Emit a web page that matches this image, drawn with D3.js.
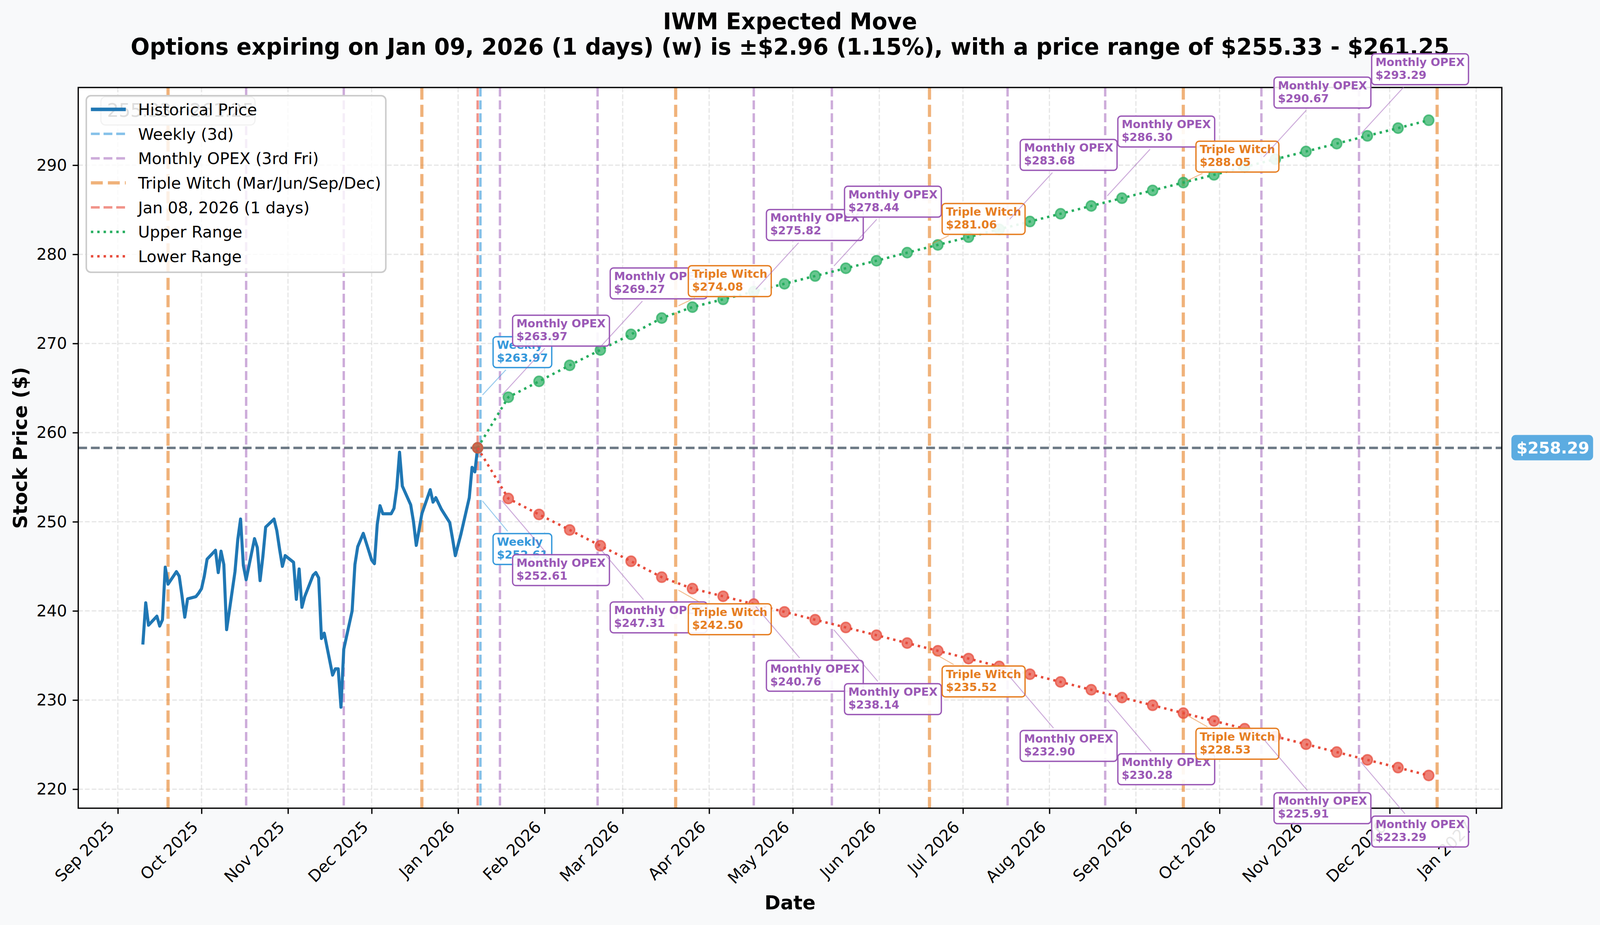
<!DOCTYPE html>
<html>
<head>
<meta charset="utf-8">
<script src="https://cdn.jsdelivr.net/npm/d3@7"></script>
<style>
  html, body { margin: 0; padding: 0; background: #f8f9fa; overflow: hidden; width: 100%; height: 100%; }
  svg { display: block; }
  svg text { font-family: "DejaVu Sans", sans-serif; }
</style>
</head>
<body>
<div id="chart"></div>
<script>
// ---- data ----
const histDates = [
  "2025-09-10","2025-09-11","2025-09-12","2025-09-15","2025-09-16","2025-09-17","2025-09-18","2025-09-19",
  "2025-09-22","2025-09-23","2025-09-24","2025-09-25","2025-09-26","2025-09-29","2025-09-30",
  "2025-10-01","2025-10-02","2025-10-03","2025-10-06","2025-10-07","2025-10-08","2025-10-09","2025-10-10",
  "2025-10-13","2025-10-14","2025-10-15","2025-10-16","2025-10-17","2025-10-20","2025-10-21","2025-10-22","2025-10-23","2025-10-24",
  "2025-10-27","2025-10-28","2025-10-29","2025-10-30","2025-10-31",
  "2025-11-03","2025-11-04","2025-11-05","2025-11-06","2025-11-07","2025-11-10","2025-11-11","2025-11-12","2025-11-13","2025-11-14",
  "2025-11-17","2025-11-18","2025-11-19","2025-11-20","2025-11-21","2025-11-24","2025-11-25","2025-11-26","2025-11-28",
  "2025-12-01","2025-12-02","2025-12-03","2025-12-04","2025-12-05","2025-12-08","2025-12-09","2025-12-10","2025-12-11","2025-12-12",
  "2025-12-15","2025-12-16","2025-12-17","2025-12-18","2025-12-19","2025-12-22","2025-12-23","2025-12-24","2025-12-26",
  "2025-12-29","2025-12-30","2025-12-31","2026-01-02","2026-01-05","2026-01-06","2026-01-07","2026-01-08"
];
const histPrices = [
  236.4, 240.9, 238.4, 239.4, 238.3, 239.0, 244.9, 243.0,
  244.4, 243.9, 241.7, 239.3, 241.35, 241.6, 242.0,
  242.5, 243.9, 245.8, 246.8, 244.3, 246.7, 245.2, 237.9,
  244.4, 248.0, 250.3, 245.1, 243.5, 248.1, 247.1, 243.4, 246.1, 249.4,
  250.3, 249.0, 246.9, 245.0, 246.2,
  245.45, 241.3, 244.7, 240.4, 241.6, 244.0, 244.3, 243.7, 236.9, 237.5,
  232.8, 233.5, 233.5, 229.2, 235.7, 240.0, 245.2, 247.2, 248.7,
  245.7, 245.3, 249.7, 251.8, 250.9, 250.9, 251.5, 253.8, 257.8, 254.0,
  251.9, 250.0, 247.35, 249.1, 250.9, 253.6, 252.2, 252.7, 251.4,
  249.9, 248.1, 246.2, 248.6, 252.7, 256.1, 255.6, 258.29
];

const rangeDates = [
  "2026-01-08","2026-01-19","2026-01-30","2026-02-10","2026-02-21","2026-03-04","2026-03-15","2026-03-26",
  "2026-04-06","2026-04-17","2026-04-28","2026-05-09","2026-05-20","2026-05-31","2026-06-11","2026-06-22",
  "2026-07-03","2026-07-14","2026-07-25","2026-08-05","2026-08-16","2026-08-27","2026-09-07","2026-09-18",
  "2026-09-29","2026-10-10","2026-10-21","2026-11-01","2026-11-12","2026-11-23","2026-12-04","2026-12-15"
];
const upperValues = [
  258.29, 263.97, 265.75, 267.55, 269.27, 271.02, 272.85, 274.08,
  274.95, 275.82, 276.70, 277.57, 278.44, 279.28, 280.19, 281.06,
  281.93, 282.81, 283.68, 284.55, 285.43, 286.30, 287.17, 288.05,
  288.92, 289.80, 290.67, 291.54, 292.42, 293.29, 294.16, 295.04
];
const lowerValues = [
  258.29, 252.61, 250.82, 249.08, 247.31, 245.57, 243.78, 242.50,
  241.64, 240.76, 239.89, 239.01, 238.14, 237.27, 236.39, 235.52,
  234.65, 233.77, 232.90, 232.03, 231.15, 230.28, 229.41, 228.53,
  227.66, 226.78, 225.91, 225.04, 224.16, 223.29, 222.42, 221.54
];

const currentPrice = 258.29;
const todayDate = "2026-01-08";
const weeklyDate = "2026-01-09";
const monthlyOpex = ["2025-10-17","2025-11-21","2026-01-16","2026-02-20","2026-04-17","2026-05-15",
                     "2026-07-17","2026-08-21","2026-10-16","2026-11-20"];
const tripleWitch = ["2025-09-19","2025-12-19","2026-03-20","2026-06-19","2026-09-18","2026-12-18"];

const annoDates = ["2026-01-09","2026-01-16","2026-02-20","2026-03-20","2026-04-17","2026-05-15",
                   "2026-06-19","2026-07-17","2026-08-21","2026-09-18","2026-10-16","2026-11-20"];
const annoKinds = ["weekly","monthly","monthly","triple","monthly","monthly",
                   "triple","monthly","monthly","triple","monthly","monthly"];
const annoUpper = [263.97, 263.97, 269.27, 274.08, 275.82, 278.44, 281.06, 283.68, 286.30, 288.05, 290.67, 293.29];
const annoLower = [252.61, 252.61, 247.31, 242.50, 240.76, 238.14, 235.52, 232.90, 230.28, 228.53, 225.91, 223.29];

const yTicks = [220, 230, 240, 250, 260, 270, 280, 290];

const titleLine1 = "IWM Expected Move";
const titleLine2 = "Options expiring on Jan 09, 2026 (1 days) (w) is \u00b1$2.96 (1.15%), with a price range of $255.33 - $261.25";
const rangeText = "255.33 - 261.25";

// ---- layout ----
var W = 4172, H = 2368;
var margin = {top: 224, right: 256, bottom: 299, left: 204};
var plotW = W - margin.left - margin.right;
var plotH = H - margin.top - margin.bottom;
var parse = d3.timeParse("%Y-%m-%d");

// drawn in a fixed 4172x2368 frame, stretched to whatever the window gives
var svg = d3.select("#chart").append("svg")
  .attr("viewBox", `0 0 ${W} ${H}`)
  .attr("preserveAspectRatio", "none")
  .style("width", "100vw")
  .style("height", "100vh");
svg.append("rect").attr("width", W).attr("height", H).attr("fill", "#f8f9fa");

var g = svg.append("g").attr("transform", `translate(${margin.left},${margin.top})`);
g.append("rect").attr("width", plotW).attr("height", plotH).attr("fill", "#ffffff");

// scales, with matplotlib style 5% padding
var allDates = histDates.concat(rangeDates, monthlyOpex, tripleWitch, [todayDate, weeklyDate]).map(parse);
var xExt = d3.extent(allDates);
var xPad = (xExt[1] - xExt[0]) * 0.05;
var x = d3.scaleTime()
  .domain([new Date(+xExt[0] - xPad), new Date(+xExt[1] + xPad)])
  .range([0, plotW]);

var allVals = histPrices.concat(upperValues, lowerValues);
var yExt = d3.extent(allVals);
var yPad = (yExt[1] - yExt[0]) * 0.05;
var y = d3.scaleLinear()
  .domain([yExt[0] - yPad, yExt[1] + yPad])
  .range([plotH, 0]);

var monthTicks = x.ticks(d3.timeMonth.every(1));

// grid
var grid = g.append("g").attr("stroke", "#b0b0b0").attr("stroke-opacity", 0.3)
  .attr("stroke-width", 3.3).attr("stroke-dasharray", "12.2,5.3");
grid.selectAll(".gx").data(monthTicks).enter().append("line")
  .attr("x1", d => x(d)).attr("x2", d => x(d)).attr("y1", 0).attr("y2", plotH);
grid.selectAll(".gy").data(yTicks).enter().append("line")
  .attr("x1", 0).attr("x2", plotW).attr("y1", d => y(d)).attr("y2", d => y(d));

// event lines
g.selectAll(".opex").data(monthlyOpex).enter().append("line")
  .attr("x1", d => x(parse(d))).attr("x2", d => x(parse(d)))
  .attr("y1", 0).attr("y2", plotH)
  .attr("stroke", "#9b59b6").attr("stroke-opacity", 0.5)
  .attr("stroke-width", 6.25).attr("stroke-dasharray", "23,10");

g.selectAll(".witch").data(tripleWitch).enter().append("line")
  .attr("x1", d => x(parse(d))).attr("x2", d => x(parse(d)))
  .attr("y1", 0).attr("y2", plotH)
  .attr("stroke", "#e67e22").attr("stroke-opacity", 0.6)
  .attr("stroke-width", 8.3).attr("stroke-dasharray", "31,13.3");

g.append("line")
  .attr("x1", x(parse(todayDate))).attr("x2", x(parse(todayDate)))
  .attr("y1", 0).attr("y2", plotH)
  .attr("stroke", "#e74c3c").attr("stroke-opacity", 0.6)
  .attr("stroke-width", 6.25).attr("stroke-dasharray", "23,10");

g.append("line")
  .attr("x1", x(parse(weeklyDate))).attr("x2", x(parse(weeklyDate)))
  .attr("y1", 0).attr("y2", plotH)
  .attr("stroke", "#3498db").attr("stroke-opacity", 0.6)
  .attr("stroke-width", 6.25).attr("stroke-dasharray", "23,10");

// current price line
g.append("line")
  .attr("x1", 0).attr("x2", plotW)
  .attr("y1", y(currentPrice)).attr("y2", y(currentPrice))
  .attr("stroke", "#2c3e50").attr("stroke-opacity", 0.7)
  .attr("stroke-width", 6.25).attr("stroke-dasharray", "23,10");

// historical price
var histLine = d3.line()
  .x((d, i) => x(parse(histDates[i])))
  .y(d => y(d));
g.append("path")
  .datum(histPrices)
  .attr("d", histLine)
  .attr("fill", "none")
  .attr("stroke", "#1f77b4")
  .attr("stroke-width", 8)
  .attr("stroke-linejoin", "round")
  .attr("stroke-linecap", "square");

// upper / lower ranges
function drawRange(values, color) {
  var line = d3.line()
    .x((d, i) => x(parse(rangeDates[i])))
    .y(d => y(d));
  g.append("path")
    .datum(values)
    .attr("d", line)
    .attr("fill", "none")
    .attr("stroke", color)
    .attr("stroke-width", 6.25)
    .attr("stroke-dasharray", "6.25,10.3");
  g.selectAll(null).data(values).enter().append("circle")
    .attr("cx", (d, i) => x(parse(rangeDates[i])))
    .attr("cy", d => y(d))
    .attr("r", 13)
    .attr("fill", color).attr("fill-opacity", 0.7)
    .attr("stroke", color).attr("stroke-opacity", 0.7)
    .attr("stroke-width", 4);
}
drawRange(upperValues, "#27ae60");
drawRange(lowerValues, "#e74c3c");

// axes
var xAxis = d3.axisBottom(x).tickValues(monthTicks)
  .tickFormat(d3.timeFormat("%b %Y")).tickSize(14.6).tickPadding(14.6);
var xg = g.append("g").attr("transform", `translate(0,${plotH})`).call(xAxis);
xg.select(".domain").remove();
xg.selectAll(".tick line").attr("stroke", "#000").attr("stroke-width", 3.3);
xg.selectAll(".tick text")
  .attr("font-family", "DejaVu Sans").attr("font-size", 41.7).attr("fill", "#000")
  .attr("text-anchor", "end").attr("dy", null).attr("x", 0).attr("y", 0)
  .attr("transform", "translate(-7,51) rotate(-45)");

var yAxis = d3.axisLeft(y).tickValues(yTicks).tickSize(14.6).tickPadding(14.6);
var yg = g.append("g").call(yAxis);
yg.select(".domain").remove();
yg.selectAll(".tick line").attr("stroke", "#000").attr("stroke-width", 3.3);
yg.selectAll(".tick text")
  .attr("font-family", "DejaVu Sans").attr("font-size", 41.7).attr("fill", "#000");

// spines
g.append("rect").attr("width", plotW).attr("height", plotH)
  .attr("fill", "none").attr("stroke", "#000").attr("stroke-width", 3.3);

// labels
svg.append("text")
  .attr("transform", `translate(70,${margin.top + plotH / 2}) rotate(-90)`)
  .attr("text-anchor", "middle")
  .attr("font-size", 50).attr("font-weight", "bold")
  .text("Stock Price ($)");

svg.append("text")
  .attr("x", margin.left + plotW / 2).attr("y", 2328)
  .attr("text-anchor", "middle")
  .attr("font-size", 50).attr("font-weight", "bold")
  .text("Date");

svg.append("text")
  .attr("x", margin.left + plotW / 2).attr("y", 75)
  .attr("text-anchor", "middle")
  .attr("font-size", 58.3).attr("font-weight", "bold")
  .text(titleLine1);
svg.append("text")
  .attr("x", margin.left + plotW / 2).attr("y", 140)
  .attr("text-anchor", "middle")
  .attr("font-size", 58.3).attr("font-weight", "bold")
  .text(titleLine2);

// price tag on the right
var tagY = margin.top + y(currentPrice);
svg.append("rect")
  .attr("x", margin.left + plotW + 25).attr("y", tagY - 33)
  .attr("width", 213).attr("height", 65).attr("rx", 11)
  .attr("fill", "#3498db").attr("fill-opacity", 0.8);
svg.append("text")
  .attr("x", margin.left + plotW + 38).attr("y", tagY + 15)
  .attr("font-size", 41.7).attr("font-weight", "bold").attr("fill", "#fff")
  .text("$" + currentPrice.toFixed(2));

// range text box that sits behind the legend
svg.append("rect")
  .attr("x", 263).attr("y", 248).attr("width", 402).attr("height", 72).attr("rx", 12)
  .attr("fill", "#f4f4f4").attr("stroke", "#bbb").attr("stroke-width", 3);
svg.append("text")
  .attr("x", 279).attr("y", 299)
  .attr("font-size", 48).attr("fill", "#555")
  .text(rangeText);

// legend
var legendItems = [
  {label: "Historical Price", color: "#1f77b4", op: 1, w: 9, dash: null},
  {label: "Weekly (3d)", color: "#3498db", op: 0.6, w: 6.25, dash: "23,10"},
  {label: "Monthly OPEX (3rd Fri)", color: "#9b59b6", op: 0.5, w: 6.25, dash: "23,10"},
  {label: "Triple Witch (Mar/Jun/Sep/Dec)", color: "#e67e22", op: 0.6, w: 8.3, dash: "31,13.3"},
  {label: "Jan 08, 2026 (1 days)", color: "#e74c3c", op: 0.6, w: 6.25, dash: "23,10"},
  {label: "Upper Range", color: "#27ae60", op: 1, w: 6.25, dash: "6.25,10.3"},
  {label: "Lower Range", color: "#e74c3c", op: 1, w: 6.25, dash: "6.25,10.3"}
];
var legend = svg.append("g");
legend.append("rect")
  .attr("x", 225).attr("y", 245).attr("width", 781).attr("height", 452).attr("rx", 12)
  .attr("fill", "#fff").attr("fill-opacity", 0.8)
  .attr("stroke", "#cccccc").attr("stroke-width", 4);
legendItems.forEach(function(it, i) {
  var cy = 280 + i * 62.7;
  legend.append("line")
    .attr("x1", 237).attr("x2", 328).attr("y1", cy).attr("y2", cy)
    .attr("stroke", it.color).attr("stroke-opacity", it.op)
    .attr("stroke-width", it.w).attr("stroke-dasharray", it.dash);
  legend.append("text")
    .attr("x", 360).attr("y", cy + 15)
    .attr("font-size", 41.7)
    .text(it.label);
});

// annotations
var annoStyle = {
  weekly:  {label: "Weekly", color: "#3498db", up: -76, down: 90},
  monthly: {label: "Monthly OPEX", color: "#9b59b6", up: -131, down: 144},
  triple:  {label: "Triple Witch", color: "#e67e22", up: -27, down: 39}
};
var fs = 29.2, pad = 10, bh = 79;
var anno = svg.append("g").attr("transform", `translate(${margin.left},${margin.top})`);

annoDates.forEach(function(ds, i) {
  var st = annoStyle[annoKinds[i]];
  [["up", annoUpper[i]], ["down", annoLower[i]]].forEach(function(p) {
    var px = x(parse(ds)), py = y(p[1]);
    var grp = anno.append("g");
    var lead = grp.append("line");
    var box = grp.append("rect");
    var txt = grp.append("text")
      .attr("font-size", fs).attr("font-weight", "bold").attr("fill", st.color);
    var t1 = txt.append("tspan").text(st.label);
    var t2 = txt.append("tspan").text("$" + p[1].toFixed(2));
    var tw = Math.max(t1.node().getComputedTextLength(), t2.node().getComputedTextLength());
    var bw = tw + 2 * pad;
    var bx = px + 33;
    var by = p[0] == "up" ? py + st.up - bh : py + st.down;

    box.attr("x", bx).attr("y", by).attr("width", bw).attr("height", bh)
      .attr("rx", 8.5).attr("fill", "#fff").attr("fill-opacity", 0.9)
      .attr("stroke", st.color).attr("stroke-width", 3.5);
    t1.attr("x", bx + pad).attr("y", by + 31);
    t2.attr("x", bx + pad).attr("y", by + 64);

    // leader from box edge to the point
    var cx = bx + bw / 2, cy = by + bh / 2;
    var dx = px - cx, dy = py - cy;
    var len = Math.sqrt(dx * dx + dy * dy);
    var ux = dx / len, uy = dy / len;
    var t = Math.min((bw / 2) / Math.abs(dx || 1e-9), (bh / 2) / Math.abs(dy || 1e-9));
    lead.attr("x1", cx + dx * t + ux * 8).attr("y1", cy + dy * t + uy * 8)
      .attr("x2", px - ux * 8).attr("y2", py - uy * 8)
      .attr("stroke", st.color).attr("stroke-opacity", 0.5).attr("stroke-width", 2.5);
  });
});
</script>
</body>
</html>
